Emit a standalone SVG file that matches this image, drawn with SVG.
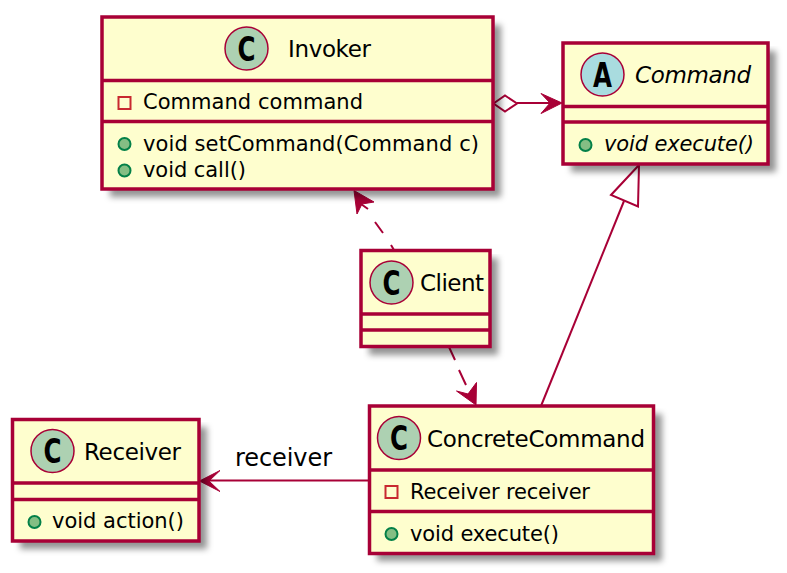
<svg xmlns="http://www.w3.org/2000/svg" width="787" height="573" viewBox="0 0 787 573">
<style>
.box{fill:#fefece;stroke:#a80036;stroke-width:3.500}
.sh{fill:#000;fill-opacity:.42;filter:url(#blur)}
.div{stroke:#a80036;stroke-width:3.500;fill:none}
.ci{stroke:#a80036;stroke-width:1.500}
.c{fill:#add1b2}
.a{fill:#a9dcdf}
text{font-family:"DejaVu Sans","Liberation Sans",sans-serif;fill:#000;font-size:21px}
.big{font-size:23px}
.gl{font-weight:bold;font-size:33px;text-anchor:middle}
.pub{fill:#84be84;stroke:#038048;stroke-width:2}
.pri{fill:none;stroke:#c82930;stroke-width:2}
.ln{stroke:#a80036;stroke-width:2;fill:none}
.hd{fill:#a80036;stroke:#a80036;stroke-width:1}
</style>
<defs><filter id="blur" x="-4%" y="-4%" width="110%" height="115%"><feGaussianBlur stdDeviation="3"/></filter></defs>
<g id="connectors">
<path class="ln" d="M517 103H552"/>
<path class="hd" d="M562 103L541 93.500L550 103L541 113.500Z"/>
<path d="M493.500 103.500L505 95.500L517 103.500L505 111.500Z" fill="#fff" stroke="#a80036" stroke-width="2"/>
<path d="M639 165L611 195L638 206.500Z" fill="none" stroke="#a80036" stroke-width="2"/>
<path class="ln" d="M624 201L541 406"/>
<path class="ln" d="M361 204L368 209M375 222L383 233M391 245L394 250"/>
<path class="hd" d="M354 190.500L374 202L362 204L357 214Z"/>
<path class="ln" d="M449 347L455 360M459 370L466 385"/>
<path class="hd" d="M476 405L476.500 382.500L468 394L456.500 391Z"/>
<path class="ln" d="M368 480.500H209"/>
<path class="hd" d="M199.500 481L220 470.500L209 481L220 491.500Z"/>
<text x="235" y="466" style="font-size:24px" textLength="97">receiver</text>
</g>
<g id="invoker">
<rect class="sh" x="110" y="25" width="391" height="172"/>
<rect class="box" x="102" y="17" width="391" height="172"/>
<path class="div" d="M102 80.500H493M102 121.500H493"/>
<circle class="ci c" cx="246.500" cy="48.500" r="21.500"/>
<text class="gl" x="246.500" y="60.500" textLength="18" lengthAdjust="spacingAndGlyphs">C</text>
<text class="big" x="288" y="57" textLength="83">Invoker</text>
<rect class="pri" x="118.500" y="97" width="12" height="12"/>
<text x="143" y="109" textLength="220">Command command</text>
<circle class="pub" cx="124.500" cy="144" r="6"/>
<text x="143" y="151" textLength="336">void setCommand(Command c)</text>
<circle class="pub" cx="124.500" cy="170.500" r="6"/>
<text x="143" y="177" textLength="103">void call()</text>
</g>
<g id="command">
<rect class="sh" x="571" y="51" width="205" height="121"/>
<rect class="box" x="563" y="43" width="205" height="121"/>
<path class="div" d="M563 106.500H768M563 122H768"/>
<circle class="ci a" cx="602.500" cy="74.500" r="21.500"/>
<text class="gl" x="602.500" y="86.500" textLength="19" lengthAdjust="spacingAndGlyphs">A</text>
<text class="big" x="635" y="83" font-style="italic" textLength="116">Command</text>
<circle class="pub" cx="585.500" cy="145" r="6"/>
<text x="604" y="151" font-style="italic" textLength="150">void execute()</text>
</g>
<g id="client">
<rect class="sh" x="369" y="258" width="129" height="97"/>
<rect class="box" x="361" y="250.500" width="129" height="96"/>
<path class="div" d="M361 314H490M361 330H490"/>
<circle class="ci c" cx="391.500" cy="282.500" r="21.500"/>
<text class="gl" x="391.500" y="294.500" textLength="18" lengthAdjust="spacingAndGlyphs">C</text>
<text class="big" x="420" y="291" textLength="64">Client</text>
</g>
<g id="receiver">
<rect class="sh" x="20" y="427" width="187" height="122"/>
<rect class="box" x="12.500" y="419.500" width="186.500" height="121.500"/>
<path class="div" d="M12.500 483H199M12.500 499.500H199"/>
<circle class="ci c" cx="52.500" cy="451" r="21.500"/>
<text class="gl" x="52.500" y="463" textLength="18" lengthAdjust="spacingAndGlyphs">C</text>
<text class="big" x="84" y="460" textLength="97">Receiver</text>
<circle class="pub" cx="34.500" cy="522" r="6"/>
<text x="52" y="528" textLength="132">void action()</text>
</g>
<g id="concretecommand">
<rect class="sh" x="377" y="414" width="285" height="147"/>
<rect class="box" x="369.500" y="406" width="284" height="147.500"/>
<path class="div" d="M369.500 470H653.500M369.500 511.500H653.500"/>
<circle class="ci c" cx="399" cy="438" r="21.500"/>
<text class="gl" x="399" y="450" textLength="18" lengthAdjust="spacingAndGlyphs">C</text>
<text class="big" x="427" y="447" textLength="218">ConcreteCommand</text>
<rect class="pri" x="385.500" y="486" width="12" height="12"/>
<text x="410" y="499" textLength="180">Receiver receiver</text>
<circle class="pub" cx="391.500" cy="534" r="6"/>
<text x="410" y="541" textLength="149">void execute()</text>
</g>
</svg>
